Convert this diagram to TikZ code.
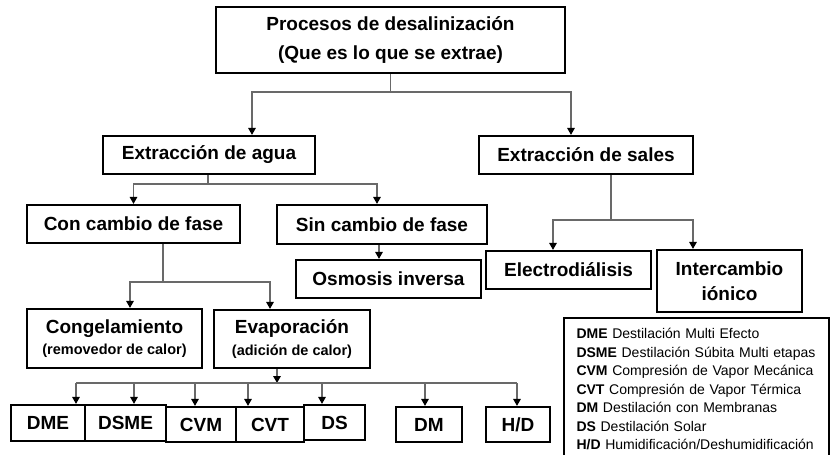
\documentclass[tikz,border=0pt]{standalone}
\usepackage{fontspec}
\setmainfont{Liberation Sans}
\usetikzlibrary{arrows.meta,calc}
\definecolor{linegray}{RGB}{105,105,105}
\begin{document}
\begin{tikzpicture}[x=1pt,y=-1pt,
  box/.style={draw=black,line width=2.2pt,inner sep=0pt,align=center,
    font=\bfseries\fontsize{19}{29}\selectfont},
  conn/.style={draw=linegray,line width=1.5pt},
  arr/.style={conn,-{Triangle[width=7.5pt,length=7pt,color=black]}},
  legendbox/.style={draw=black,line width=2pt,anchor=north west,align=left,
    text width=240pt,inner xsep=12.5pt,inner ysep=10.5pt,
    font=\fontsize{14}{18.5}\selectfont}]
\useasboundingbox (0,0) rectangle (830,455);
% nodes
\node[box,minimum width=349pt,minimum height=66pt] (top) at (390.5,40)
  {Procesos de desalinización\\(Que es lo que se extrae)};
\node[box,minimum width=212pt,minimum height=38pt] (agua) at (209,155) {Extracción de agua};
\node[box,minimum width=214pt,minimum height=38pt] (sales) at (586,155) {Extracción de sales};
\node[box,minimum width=213pt,minimum height=38pt] (con) at (133.5,224) {Con cambio de fase};
\node[box,minimum width=210pt,minimum height=39pt] (sin) at (382,224.5) {Sin cambio de fase};
\node[box,minimum width=185pt,minimum height=38pt] (osm) at (388.5,279) {Osmosis inversa};
\node[box,minimum width=165pt,minimum height=38pt] (elec) at (568.5,270) {Electrodiálisis};
\node[box,minimum width=145pt,minimum height=62pt] (inter) at (729.5,281) {Intercambio\\[-4pt]iónico};
\node[box,minimum width=175pt,minimum height=59pt] (cong) at (114.5,338.5)
  {Congelamiento\\[-7.5pt]{\fontsize{14.5}{17}\selectfont(removedor de calor)}};
\node[box,minimum width=156pt,minimum height=58pt] (evap) at (292,339)
  {Evaporación\\[-7.5pt]{\fontsize{14.5}{17}\selectfont(adición de calor)}};
\node[box,minimum width=74pt,minimum height=36pt] (dme) at (48,423) {DME};
\node[box,minimum width=81pt,minimum height=36pt] (dsme) at (125.5,423) {DSME};
\node[box,minimum width=70pt,minimum height=35pt] (cvm) at (201,424.5) {CVM};
\node[box,minimum width=68pt,minimum height=35pt] (cvt) at (270,424.5) {CVT};
\node[box,minimum width=61pt,minimum height=35pt] (ds) at (334.5,422.5) {DS};
\node[box,minimum width=66pt,minimum height=35pt] (dm) at (429,424.5) {DM};
\node[box,minimum width=64pt,minimum height=35pt] (hd) at (518,424.5) {H/D};
\node[legendbox] (leg) at (563,317)
  {\textbf{DME} Destilación Multi Efecto\\
   \textbf{DSME} Destilación Súbita Multi etapas\\
   \textbf{CVM} Compresión de Vapor Mecánica\\
   \textbf{CVT} Compresión de Vapor Térmica\\
   \textbf{DM} Destilación con Membranas\\
   \textbf{DS} Destilación Solar\\
   \textbf{H/D} Humidificación/Deshumidificación};
% junctions
\coordinate (j1) at (390.5,92);
\coordinate (j2) at (208,184);
\coordinate (j3) at (611,220);
\coordinate (j4) at (163,282);
\coordinate (j5) at (277,383);
% connectors
\draw[conn] (top.south) -- (j1);
\draw[arr] (j1) -| ([xshift=43pt]agua.north);
\draw[arr] (j1) -| ([xshift=-15pt]sales.north);
\draw[conn] (agua.south -| j2) -- (j2);
\draw[arr] (j2) -| (con.north);
\draw[arr] (j2) -| ([xshift=-5pt]sin.north);
\draw[arr] ([xshift=-3pt]sin.south) -- ([xshift=-3pt]sin.south |- osm.north);
\draw[conn] (sales.south -| j3) -- (j3);
\draw[arr] (j3) -| ([xshift=-15.5pt]elec.north);
\draw[arr] (j3) -| ([xshift=-36.5pt]inter.north);
\draw[conn] (con.south -| j4) -- (j4);
\draw[arr] (j4) -| ([xshift=15.5pt]cong.north);
\draw[arr] (j4) -| ([xshift=-22pt]evap.north);
\draw[arr] (evap.south -| j5) -- (j5);
\draw[conn] ([xshift=28pt]dme.north |- j5) -- ([xshift=-1pt]hd.north |- j5);
\draw[arr] ([xshift=28pt]dme.north |- j5) -- ([xshift=28pt]dme.north);
\draw[arr] ([xshift=8.5pt]dsme.north |- j5) -- ([xshift=8.5pt]dsme.north);
\draw[arr] ([xshift=-6pt]cvm.north |- j5) -- ([xshift=-6pt]cvm.north);
\draw[arr] ([xshift=-22pt]cvt.north |- j5) -- ([xshift=-22pt]cvt.north);
\draw[arr] ([xshift=-12.5pt]ds.north |- j5) -- ([xshift=-12.5pt]ds.north);
\draw[arr] ([xshift=-4pt]dm.north |- j5) -- ([xshift=-4pt]dm.north);
\draw[arr] ([xshift=-1pt]hd.north |- j5) -- ([xshift=-1pt]hd.north);
\end{tikzpicture}
\end{document}
